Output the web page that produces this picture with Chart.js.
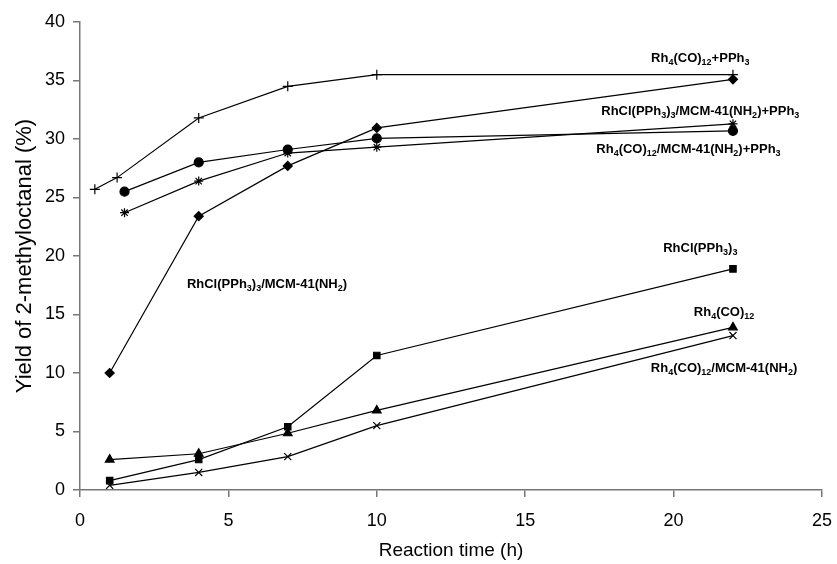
<!DOCTYPE html>
<html>
<head>
<meta charset="utf-8">
<script src="https://cdn.jsdelivr.net/npm/chart.js@4/dist/chart.umd.min.js"></script>
<style>
  html, body { margin: 0; padding: 0; background: #fff; overflow: hidden; }
  #wrap { width: 837px; height: 564px; position: relative; }
</style>
</head>
<body>
<div id="wrap"><canvas id="yieldChart"></canvas></div>
<script>
var xTicks = [0, 5, 10, 15, 20, 25];
var yTicks = [0, 5, 10, 15, 20, 25, 30, 35, 40];

var rhPphTime = [0.5, 1.25, 4, 7, 10, 22];
var rhPphYield = [25.7, 26.7, 31.8, 34.5, 35.5, 35.5];

var rhclMcmTime = [1, 4, 7, 10, 22];
var rhclMcmYield = [10.0, 23.4, 27.7, 30.95, 35.1];

var rhclMcmPphTime = [1.5, 4, 7, 10, 22];
var rhclMcmPphYield = [23.7, 26.4, 28.8, 29.3, 31.3];

var rhMcmPphTime = [1.5, 4, 7, 10, 22];
var rhMcmPphYield = [25.5, 28.0, 29.1, 30.05, 30.7];

var rhclTime = [1, 4, 7, 10, 22];
var rhclYield = [0.8, 2.6, 5.4, 11.5, 18.9];

var rhTime = [1, 4, 7, 10, 22];
var rhYield = [2.6, 3.1, 4.85, 6.8, 13.9];

var rhMcmTime = [1, 4, 7, 10, 22];
var rhMcmYield = [0.4, 1.5, 2.85, 5.5, 13.2];

// label text ("_n" = subscript) and its centre in data units
var labelText = [
  "Rh_4(CO)_12+PPh_3",
  "RhCl(PPh_3)_3/MCM-41(NH_2)+PPh_3",
  "Rh_4(CO)_12/MCM-41(NH_2)+PPh_3",
  "RhCl(PPh_3)_3/MCM-41(NH_2)",
  "RhCl(PPh_3)_3",
  "Rh_4(CO)_12",
  "Rh_4(CO)_12/MCM-41(NH_2)"
];
var labelX = [20.9, 20.9, 20.5, 6.3, 20.9, 21.7, 21.7];
var labelY = [37.0, 32.5, 29.2, 17.7, 20.8, 15.3, 10.5];

function toPoints(xs, ys) {
  return xs.map(function(x, i) {
    return { x: x, y: ys[i] };
  });
}

function series(name, xs, ys, style, radius) {
  return {
    label: name,
    data: toPoints(xs, ys),
    borderColor: "#000",
    backgroundColor: "#000",
    borderWidth: 1.2,
    pointStyle: style,
    pointRadius: radius,
    pointBorderColor: "#000",
    pointBackgroundColor: "#000",
    pointBorderWidth: 1.2,
    fill: false,
    tension: 0
  };
}

var curveLabels = {
  id: "curveLabels",
  afterDatasetsDraw: function(chart) {
    var ctx = chart.ctx;
    var xs = chart.scales.x, ys = chart.scales.y;
    var big = "bold 13px 'Liberation Sans', Arial, sans-serif";
    var small = "bold 9px 'Liberation Sans', Arial, sans-serif";
    ctx.save();
    ctx.fillStyle = "#000";
    ctx.textBaseline = "alphabetic";
    ctx.textAlign = "left";
    labelText.forEach(function(txt, i) {
      var parts = txt.split(/(_\d+)/).filter(function(p) { return p.length; });
      var total = 0;
      parts.forEach(function(p) {
        ctx.font = p[0] === "_" ? small : big;
        total += ctx.measureText(p[0] === "_" ? p.slice(1) : p).width;
      });
      var px = xs.getPixelForValue(labelX[i]) - total / 2;
      var py = ys.getPixelForValue(labelY[i]) + 5;
      parts.forEach(function(p) {
        if (p[0] === "_") {
          ctx.font = small;
          ctx.fillText(p.slice(1), px, py + 3);
          px += ctx.measureText(p.slice(1)).width;
        } else {
          ctx.font = big;
          ctx.fillText(p, px, py);
          px += ctx.measureText(p).width;
        }
      });
    });
    ctx.restore();
  }
};

document.addEventListener("DOMContentLoaded", function() {
  var ctx = document.getElementById("yieldChart").getContext("2d");
  new Chart(ctx, {
    type: "line",
    data: {
      datasets: [
        series("Rh4(CO)12+PPh3", rhPphTime, rhPphYield, "cross", 5),
        series("RhCl(PPh3)3/MCM-41(NH2)", rhclMcmTime, rhclMcmYield, "rectRot", 4.5),
        series("RhCl(PPh3)3/MCM-41(NH2)+PPh3", rhclMcmPphTime, rhclMcmPphYield, "star", 4.5),
        series("Rh4(CO)12/MCM-41(NH2)+PPh3", rhMcmPphTime, rhMcmPphYield, "circle", 4.5),
        series("RhCl(PPh3)3", rhclTime, rhclYield, "rect", 4.5),
        series("Rh4(CO)12", rhTime, rhYield, "triangle", 5),
        series("Rh4(CO)12/MCM-41(NH2)", rhMcmTime, rhMcmYield, "crossRot", 5)
      ]
    },
    options: {
      responsive: true,
      maintainAspectRatio: false,
      animation: false,
      layout: { padding: { top: 22, right: 15, left: 0, bottom: 0 } },
      plugins: {
        legend: { display: false },
        tooltip: { enabled: false }
      },
      scales: {
        x: {
          type: "linear",
          min: 0,
          max: 25,
          afterBuildTicks: function(scale) {
            scale.ticks = xTicks.map(function(v) { return { value: v }; });
          },
          afterFit: function(scale) {
            scale.height = 74;
            scale.paddingLeft = 0;
            scale.paddingRight = 0;
          },
          border: { display: true, color: "#777", width: 1.5 },
          grid: { drawOnChartArea: false, drawTicks: true, tickLength: 7, color: "#777", lineWidth: 1.5 },
          ticks: {
            color: "#000",
            padding: 13,
            maxRotation: 0,
            font: { family: "'Liberation Sans', Arial, sans-serif", size: 18 }
          },
          title: {
            display: true,
            text: "Reaction time (h)",
            color: "#000",
            padding: { top: 0, bottom: 2 },
            font: { family: "'Liberation Sans', Arial, sans-serif", size: 19 }
          }
        },
        y: {
          min: 0,
          max: 40,
          afterBuildTicks: function(scale) {
            scale.ticks = yTicks.map(function(v) { return { value: v }; });
          },
          afterFit: function(scale) { scale.width = 80; },
          border: { display: true, color: "#777", width: 1.5 },
          grid: { drawOnChartArea: false, drawTicks: true, tickLength: 7, color: "#777", lineWidth: 1.5 },
          ticks: {
            color: "#000",
            padding: 8,
            font: { family: "'Liberation Sans', Arial, sans-serif", size: 18 }
          },
          title: {
            display: true,
            text: "Yield of 2-methyloctanal (%)",
            color: "#000",
            padding: { top: 12, bottom: 0 },
            font: { family: "'Liberation Sans', Arial, sans-serif", size: 22 }
          }
        }
      }
    },
    plugins: [curveLabels]
  });
});
</script>
</body>
</html>
